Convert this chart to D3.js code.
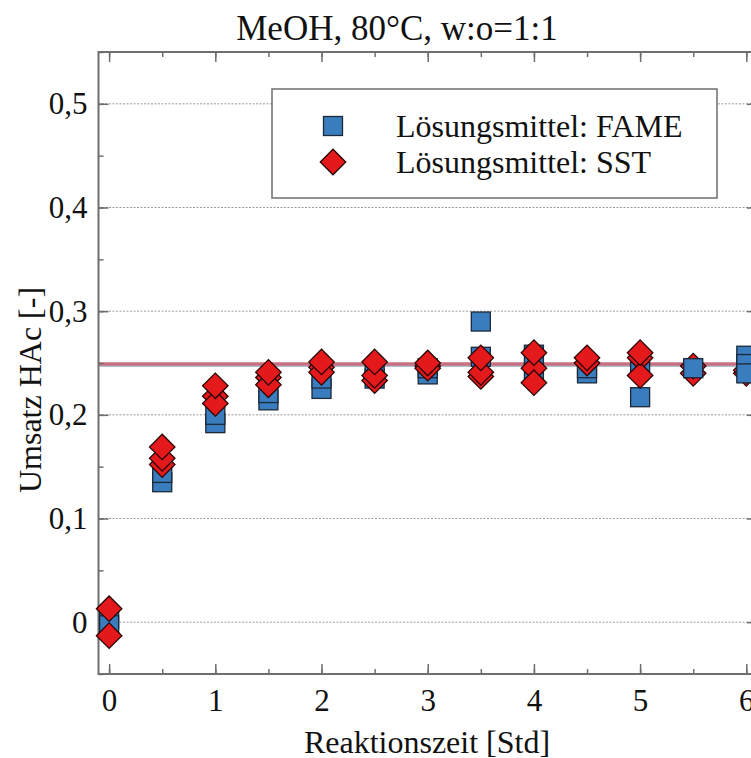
<!DOCTYPE html>
<html>
<head>
<meta charset="utf-8">
<script src="https://cdn.jsdelivr.net/npm/d3@7"></script>
<style>
  html, body { margin: 0; padding: 0; background: #fff; }
  svg { display: block; font-family: "Liberation Serif", "Times New Roman", serif; }
</style>
</head>
<body>
<svg id="chart" width="751" height="758"></svg>
<script>
// Conversion of acetic acid over reaction time, one array per run.
// FAME runs (drawn first)
const fameRun1 = [[0, 0.003], [0.5, 0.135], [1, 0.192], [1.5, 0.214], [2, 0.225], [2.5, 0.235],
                  [3, 0.239], [3.5, 0.290], [4, 0.240], [4.5, 0.240], [5, 0.217]];
const fameRun2 = [[0, -0.003], [0.5, 0.144], [1, 0.200], [1.5, 0.221], [2, 0.235], [2.5, 0.240],
                  [3, 0.245], [3.5, 0.256], [4, 0.258], [4.5, 0.245], [5, 0.251]];
// SST runs
const sstRun1 = [[0, 0.013], [0.5, 0.169], [1, 0.228], [1.5, 0.241], [2, 0.251], [2.5, 0.251],
                 [3, 0.250], [3.5, 0.255], [4, 0.260], [4.5, 0.255], [5, 0.260], [5.5, 0.247], [6, 0.243]];
const sstRun2 = [[0, -0.013], [0.5, 0.158], [1, 0.211], [1.5, 0.229], [2, 0.241], [2.5, 0.238],
                 [3, 0.245], [3.5, 0.241], [4, 0.231], [4.5, 0.250], [5, 0.238], [5.5, 0.240], [6, 0.240]];
const sstRun3 = [[0.5, 0.152], [1, 0.218], [1.5, 0.236], [2, 0.246], [2.5, 0.233], [3, 0.247],
                 [3.5, 0.237], [4, 0.245], [5, 0.255]];
// late FAME runs (drawn on top)
const fameRun3 = [[5.5, 0.245], [6, 0.257]];
const fameRun4 = [[6, 0.249], [6, 0.240]];

const equilibrium = 0.249;        // equilibrium conversion line
const xTicks = [0, 1, 2, 3, 4, 5, 6];
const yTicks = [0, 0.1, 0.2, 0.3, 0.4, 0.5];
const seriesNames = ["Lösungsmittel: FAME", "Lösungsmittel: SST"];
const title = "MeOH, 80°C, w:o=1:1";
const xTitle = "Reaktionszeit [Std]";
const yTitle = "Umsatz HAc [-]";

const svg = d3.select("#chart");
const m = { left: 98.5, top: 52, bottom: 674 };
const x = d3.scaleLinear().domain([-0.1, 6.1]).range([m.left, m.left + 6.2 * 106.2]);
const y = d3.scaleLinear().domain([-0.05, 0.55]).range([m.bottom, m.top]);
const x0 = x.range()[0], x1 = x.range()[1];
const fmt = v => (v === 0 ? "0" : d3.format(".1f")(v).replace(".", ","));

const frameColor = "#6e6e6e";

// dotted grid lines
svg.append("g").selectAll("line").data(yTicks).join("line")
  .attr("x1", x0).attr("x2", x1)
  .attr("y1", d => y(d)).attr("y2", d => y(d))
  .attr("stroke", "#9a9a9a").attr("stroke-width", 1).attr("stroke-dasharray", "2,1.5");

// equilibrium line (blue under red)
svg.append("line").attr("x1", x0).attr("x2", x1)
  .attr("y1", y(equilibrium) + 2).attr("y2", y(equilibrium) + 2)
  .attr("stroke", "#aebfe0").attr("stroke-width", 2);
svg.append("line").attr("x1", x0).attr("x2", x1)
  .attr("y1", y(equilibrium)).attr("y2", y(equilibrium))
  .attr("stroke", "#c8707e").attr("stroke-width", 3.5);

// axes with inward ticks
const xMinor = d3.range(0, 6.01, 0.5);
const yMinor = d3.range(-0.05, 0.551, 0.05).map(v => +v.toFixed(2));
const bottomAxis = svg.append("g").attr("transform", `translate(0,${m.bottom})`)
  .call(d3.axisBottom(x).tickValues(xMinor).tickSizeInner(-5).tickSizeOuter(0).tickFormat(""));
const bottomMajor = svg.append("g").attr("transform", `translate(0,${m.bottom})`)
  .call(d3.axisBottom(x).tickValues(xTicks).tickSizeInner(-10).tickSizeOuter(0).tickPadding(15).tickFormat(d3.format("d")));
const topAxis = svg.append("g").attr("transform", `translate(0,${m.top})`)
  .call(d3.axisTop(x).tickValues(xMinor).tickSizeInner(-5).tickSizeOuter(0).tickFormat(""));
const topMajor = svg.append("g").attr("transform", `translate(0,${m.top})`)
  .call(d3.axisTop(x).tickValues(xTicks).tickSizeInner(-10).tickSizeOuter(0).tickFormat(""));
const leftAxis = svg.append("g").attr("transform", `translate(${m.left},0)`)
  .call(d3.axisLeft(y).tickValues(yMinor).tickSizeInner(-5).tickSizeOuter(0).tickFormat(""));
const leftMajor = svg.append("g").attr("transform", `translate(${m.left},0)`)
  .call(d3.axisLeft(y).tickValues(yTicks).tickSizeInner(-10).tickSizeOuter(0).tickPadding(11).tickFormat(fmt));
const rightAxis = svg.append("g").attr("transform", `translate(${x1},0)`)
  .call(d3.axisRight(y).tickValues(yTicks).tickSizeInner(-10).tickSizeOuter(0).tickFormat(""));

[bottomAxis, bottomMajor, topAxis, topMajor, leftAxis, leftMajor, rightAxis].forEach(g => {
  g.select(".domain").remove();
  g.selectAll(".tick line").attr("stroke", frameColor).attr("stroke-width", 1.5);
  g.selectAll(".tick text").attr("fill", "#111").style("font-size", "31px")
    .style("font-family", "'Liberation Serif', serif");
});

// frame
svg.append("rect").attr("x", x0).attr("y", m.top)
  .attr("width", x1 - x0).attr("height", m.bottom - m.top)
  .attr("fill", "none").attr("stroke", frameColor).attr("stroke-width", 2);

// markers
const sq = 19;
const diamond = d3.symbol().type(d3.symbolSquare).size(18 * 18);
function drawFame(run) {
  svg.append("g").selectAll("rect").data(run).join("rect")
    .attr("x", d => x(d[0]) - sq / 2).attr("y", d => y(d[1]) - sq / 2)
    .attr("width", sq).attr("height", sq)
    .attr("fill", "#3a7dbf").attr("stroke", "#1b2838").attr("stroke-width", 1.3);
}
function drawSst(run) {
  svg.append("g").selectAll("path").data(run).join("path")
    .attr("d", diamond)
    .attr("transform", d => `translate(${x(d[0])},${y(d[1])}) rotate(45)`)
    .attr("fill", "#e3191c").attr("stroke", "#2a0505").attr("stroke-width", 1.3);
}
drawFame(fameRun1);
drawFame(fameRun2);
drawSst(sstRun3);
drawSst(sstRun2);
drawSst(sstRun1);
drawFame(fameRun3);
drawFame(fameRun4);

// legend
const lg = svg.append("g");
lg.append("rect").attr("x", 272).attr("y", 89).attr("width", 445).attr("height", 109)
  .attr("fill", "#fff").attr("stroke", frameColor).attr("stroke-width", 1.5);
lg.append("rect").attr("x", 333 - sq / 2).attr("y", 126 - sq / 2).attr("width", sq).attr("height", sq)
  .attr("fill", "#3a7dbf").attr("stroke", "#1b2838").attr("stroke-width", 1.3);
lg.append("path").attr("d", diamond).attr("transform", "translate(333,162) rotate(45)")
  .attr("fill", "#e3191c").attr("stroke", "#2a0505").attr("stroke-width", 1.3);
lg.selectAll("text").data(seriesNames).join("text")
  .attr("x", 396).attr("y", (d, i) => 137 + i * 36)
  .attr("fill", "#111").style("font-size", "32px").text(d => d);

// titles
svg.append("text").attr("x", 397).attr("y", 40).attr("text-anchor", "middle")
  .attr("fill", "#111").style("font-size", "35px").text(title);
svg.append("text").attr("x", 427).attr("y", 753).attr("text-anchor", "middle")
  .attr("fill", "#111").style("font-size", "32px").text(xTitle);
svg.append("text").attr("transform", "translate(41,390) rotate(-90)")
  .attr("text-anchor", "middle").attr("fill", "#111").style("font-size", "32px").text(yTitle);
</script>
</body>
</html>
